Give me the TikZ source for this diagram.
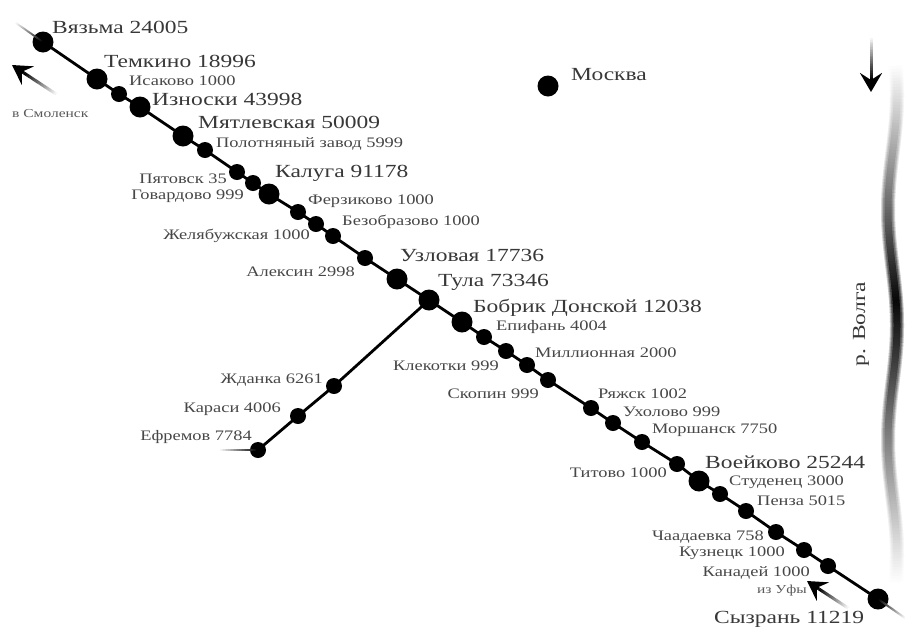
\documentclass[tikz,border=0pt]{standalone}
\usepackage{fontspec}
\setmainfont[FakeStretch=1.27]{Liberation Serif}
\usetikzlibrary{calc,arrows.meta}
\tikzset{
  station/.style={circle,fill=black,inner sep=0pt,draw=none},
  big/.style={station,minimum size=21pt},
  small/.style={station,minimum size=16pt},
  line/.style={line width=2.8pt,black},
  lbig/.style={inner sep=0pt,text=black!78,font=\fontsize{18.5}{20}\selectfont},
  lsmall/.style={inner sep=0pt,text=black!72,font=\fontsize{14.5}{15}\selectfont},
  ltiny/.style={inner sep=0pt,text=black!65,font=\fontsize{12.2}{12}\selectfont},
  lb/.style={lbig,anchor=west},
  ls/.style={lsmall,anchor=west},
  rs/.style={lsmall,anchor=east},
  head/.style={black,line width=3pt,-{Stealth[length=19pt,width=22pt,inset=7pt]}},
}
\newcommand{\fadeline}[3]{%
  \foreach \i in {0,...,23}{%
    \pgfmathsetmacro{\pc}{100-\i*100/24}%
    \pgfmathsetmacro{\aa}{\i/24}%
    \pgfmathsetmacro{\bb}{(\i+1.15)/24}%
    \draw[line width=#3,black!\pc!white] ($(#1)!\aa!(#2)$) -- ($(#1)!\bb!(#2)$);
  }}
\begin{document}
\begin{tikzpicture}[x=1pt,y=-1pt]
\useasboundingbox (0,0) rectangle (905,630);
\fill[white] (0,0) rectangle (905,630);
% river: layers of short strokes, darkest near the middle
\foreach \w/\k in {14/0.25,12/0.5,10/0.75,7/1}{
  \foreach \y in {63,66,...,582}{
    \pgfmathsetmacro{\cx}{892.5-4.5*cos((\y-210)*1.565)}
    \pgfmathsetmacro{\cxb}{892.5-4.5*cos((\y+3.5-210)*1.565)}
    \pgfmathsetmacro{\dk}{\k*97*(\y<300 ? (\y-63)/237 : (582-\y)/282)}
    \draw[line width=\w pt,black!\dk!white] (\cx,\y) -- (\cxb,\y+3.5);
  }
}
% stations
\foreach \n/\x/\y/\s in {vyazma/43/42/big,temkino/97/79/big,isakovo/119/94/small,iznoski/140/107/big,
 myatlev/183/136/big,polotn/205/150/small,pyatovsk/237/172/small,govard/253/183/small,kaluga/269/194/big,
 ferz/298/212/small,zhel/316/224/small,bezobr/333/236/small,aleksin/365/258/small,uzlov/397/279/big,
 tula/429/300/big,bobrik/462/322/big,epif/484/337/small,klek/506/351/small,mill/527/365/small,skopin/548/380/small,
 ryazhsk/591/408/small,ukhol/613/423/small,morsh/642/442/small,titovo/677/464/small,voeik/699/481/big,
 stud/720/494/small,penza/746/511/small,chaad/776/532/small,kuzn/804/550/small,kanad/828/566/small,syzran/878/599/big,
 zhdanka/334/386/small,karasi/298/416/small,efrem/258/450/small,moskva/548/86/big}
 {\node[\s] (\n) at (\x,\y) {};}
% connectors
\draw[line] (vyazma.center) -- (temkino.center) -- (isakovo.center) -- (iznoski.center) -- (myatlev.center) -- (polotn.center) -- (pyatovsk.center) -- (govard.center) -- (kaluga.center) -- (ferz.center) -- (zhel.center) -- (bezobr.center) -- (aleksin.center) -- (uzlov.center) -- (tula.center) -- (bobrik.center) -- (epif.center) -- (klek.center) -- (mill.center) -- (skopin.center) -- (ryazhsk.center) -- (ukhol.center) -- (morsh.center) -- (titovo.center) -- (voeik.center) -- (stud.center) -- (penza.center) -- (chaad.center) -- (kuzn.center) -- (kanad.center) -- (syzran.center);
\draw[line] (tula.center) -- (zhdanka.center) -- (karasi.center) -- (efrem.center);
% fading ends
\coordinate (fa) at (16,23);
\coordinate (fb) at (905,618);
\coordinate (fc) at (220,450);
\fadeline{vyazma}{fa}{1.8pt}
\fadeline{syzran}{fb}{2pt}
\fadeline{efrem}{fc}{1.8pt}
% arrows
\coordinate (sa) at (24,73);
\coordinate (sb) at (56,94);
\coordinate (ua) at (819,589);
\coordinate (ub) at (848,608);
\coordinate (da) at (871,80);
\coordinate (db) at (871,38);
\fadeline{sa}{sb}{3pt}
\fadeline{ua}{ub}{3pt}
\fadeline{da}{db}{3pt}
\coordinate (st) at (12,65);
\coordinate (ut) at (807,581);
\coordinate (dt) at (871,92);
\draw[head] (sa) -- (st);
\draw[head] (ua) -- (ut);
\draw[head] (da) -- (dt);
% labels
\node[lb] (t1) at (52,27) {Вязьма 24005};
\node[lb] (t2) at (104,61) {Темкино 18996};
\node[ls] (t3) at (129,81) {Исаково 1000};
\node[lb] (t4) at (152,99) {Износки 43998};
\node[lb] (t5) at (198,122) {Мятлевская 50009};
\node[ls] (t6) at (216,144) {Полотняный завод 5999};
\node[rs] (t7) at (227,179) {Пятовск 35};
\node[rs] (t8) at (244,196) {Говардово 999};
\node[lb] (t9) at (275,173) {Калуга 91178};
\node[ls] (t10) at (308,201) {Ферзиково 1000};
\node[ls] (t11) at (342,222) {Безобразово 1000};
\node[rs] (t12) at (310,236) {Желябужская 1000};
\node[rs] (t13) at (355,272) {Алексин 2998};
\node[lb] (t14) at (400,255) {Узловая 17736};
\node[lb] (t15) at (438,282) {Тула 73346};
\node[lb] (t16) at (473,308) {Бобрик Донской 12038};
\node[ls] (t17) at (496,327) {Епифань 4004};
\node[ls] (t18) at (535,353) {Миллионная 2000};
\node[rs] (t19) at (499,366) {Клекотки 999};
\node[rs] (t20) at (539,394) {Скопин 999};
\node[ls] (t21) at (598,394) {Ряжск 1002};
\node[ls] (t22) at (623,412) {Ухолово 999};
\node[ls] (t23) at (652,430) {Моршанск 7750};
\node[rs] (t24) at (667,473) {Титово 1000};
\node[lb] (t25) at (705,462) {Воейково 25244};
\node[ls] (t26) at (729,482) {Студенец 3000};
\node[ls] (t27) at (757,501) {Пенза 5015};
\node[rs] (t28) at (764,537) {Чаадаевка 758};
\node[rs] (t29) at (785,553) {Кузнецк 1000};
\node[rs] (t30) at (810,573) {Канадей 1000};
\node[ltiny,anchor=east] (t31) at (807,591) {из Уфы};
\node[lb] (t32) at (714,619) {Сызрань 11219};
\node[rs] (t33) at (252,437) {Ефремов 7784};
\node[rs] (t34) at (281,409) {Караси 4006};
\node[rs] (t35) at (323,380) {Жданка 6261};
\node[lb] (t36) at (571,75) {Москва};
\node[ltiny,anchor=west] (t37) at (12,114) {в Смоленск};
\node[lbig,rotate=90] (t38) at (861,324) {р. Волга};
\end{tikzpicture}
\end{document}
